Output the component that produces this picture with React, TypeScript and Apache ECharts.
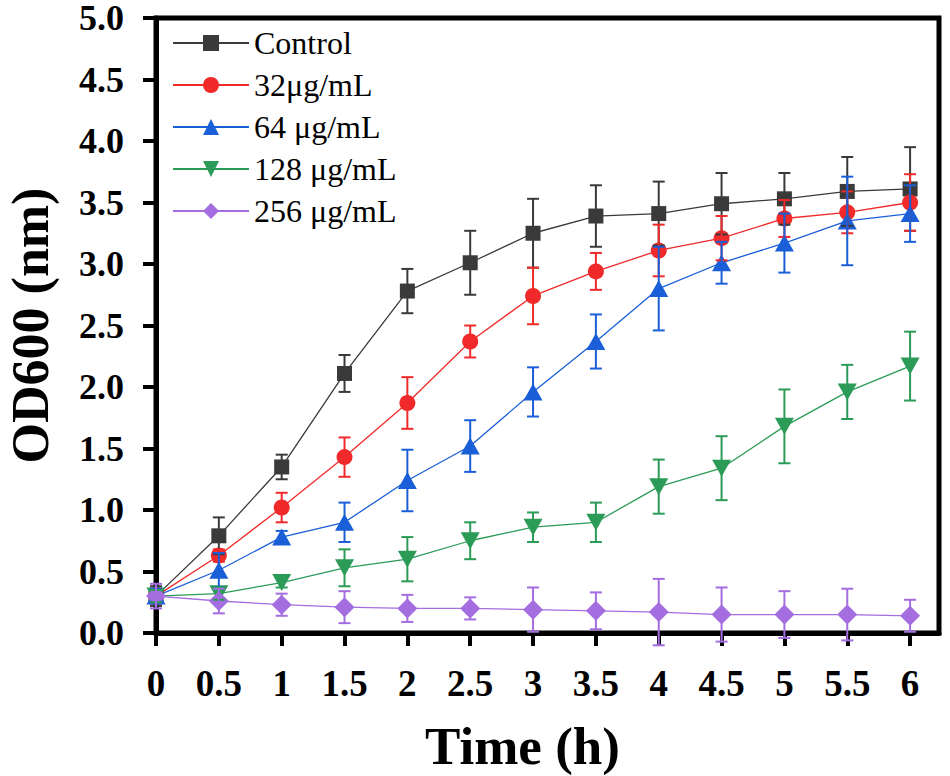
import React, { useEffect, useRef } from "react";
import * as echarts from "echarts";

const timeH = [0, 0.5, 1, 1.5, 2, 2.5, 3, 3.5, 4, 4.5, 5, 5.5, 6];
const seriesNames = ["Control", "32μg/mL", "64 μg/mL", "128 μg/mL", "256 μg/mL"];
const control = [0.30, 0.79, 1.35, 2.11, 2.78, 3.01, 3.25, 3.39, 3.41, 3.49, 3.53, 3.59, 3.61];
const controlErr = [0.08, 0.15, 0.10, 0.15, 0.18, 0.26, 0.28, 0.25, 0.26, 0.25, 0.21, 0.28, 0.34];
const c32 = [0.30, 0.63, 1.02, 1.43, 1.87, 2.37, 2.74, 2.94, 3.11, 3.21, 3.37, 3.42, 3.50];
const c32Err = [0.06, 0.05, 0.12, 0.16, 0.21, 0.13, 0.23, 0.15, 0.21, 0.18, 0.15, 0.17, 0.23];
const c64 = [0.30, 0.51, 0.78, 0.90, 1.24, 1.52, 1.96, 2.37, 2.80, 3.01, 3.17, 3.35, 3.41];
const c64Err = [0.06, 0.14, 0.05, 0.16, 0.25, 0.21, 0.20, 0.22, 0.34, 0.17, 0.24, 0.36, 0.23];
const c128 = [0.30, 0.32, 0.41, 0.53, 0.60, 0.75, 0.86, 0.90, 1.19, 1.34, 1.68, 1.96, 2.17];
const c128Err = [0.05, 0.05, 0.04, 0.15, 0.18, 0.15, 0.12, 0.16, 0.22, 0.26, 0.30, 0.22, 0.28];
const c256 = [0.30, 0.26, 0.23, 0.21, 0.20, 0.20, 0.19, 0.18, 0.17, 0.15, 0.15, 0.15, 0.14];
const c256Err = [0.10, 0.10, 0.09, 0.13, 0.11, 0.09, 0.18, 0.15, 0.27, 0.22, 0.19, 0.21, 0.13];
const yTicks = [0, 0.5, 1, 1.5, 2, 2.5, 3, 3.5, 4, 4.5, 5];

const colors = ["#3a3a3a", "#f02a2a", "#1a5fd8", "#2b9b57", "#a46de0"];
const symbols = [
  "rect",
  "circle",
  "triangle",
  "path://M0,0 L10,0 L5,9 Z",
  "diamond",
];
const symbolSizes: any[] = [15, 16, [19, 17], [19, 17], [20, 20]];
const values = [control, c32, c64, c128, c256];
const errors = [controlErr, c32Err, c64Err, c128Err, c256Err];

const FONT = "'Liberation Serif', 'Times New Roman', serif";

export default function App() {
  const ref = useRef<HTMLDivElement>(null);
  useEffect(() => {
    if (!ref.current) return;
    const chart = echarts.init(ref.current, undefined, { renderer: "svg" });
    const lineSeries = values.map((vals, i) => ({
      name: seriesNames[i],
      type: "line",
      data: timeH.map((t, j) => [t, vals[j]]),
      symbol: symbols[i],
      symbolSize: symbolSizes[i],
      lineStyle: { color: colors[i], width: 1.3 },
      itemStyle: { color: colors[i] },
      z: 3,
    }));
    const errSeries = values.map((vals, i) => ({
      name: seriesNames[i],
      type: "custom",
      data: timeH.map((t, j) => [t, vals[j], errors[i][j]]),
      z: 4,
      renderItem: (params: any, api: any) => {
        const x = api.value(0);
        const y = api.value(1);
        const e = api.value(2);
        const top = api.coord([x, y + e]);
        const bot = api.coord([x, y - e]);
        const hw = 6;
        const style = { stroke: colors[i], lineWidth: 2 };
        return {
          type: "group",
          children: [
            { type: "line", shape: { x1: top[0], y1: top[1], x2: bot[0], y2: bot[1] }, style },
            { type: "line", shape: { x1: top[0] - hw, y1: top[1], x2: top[0] + hw, y2: top[1] }, style },
            { type: "line", shape: { x1: bot[0] - hw, y1: bot[1], x2: bot[0] + hw, y2: bot[1] }, style },
          ],
        };
      },
    }));
    chart.setOption({
      animation: false,
      backgroundColor: "#fff",
      textStyle: { fontFamily: FONT },
      grid: {
        left: 156,
        top: 18,
        right: 11,
        bottom: 143,
        show: true,
        borderColor: "#000",
        borderWidth: 5,
        containLabel: false,
        outerBoundsMode: "none",
      },
      legend: {
        data: seriesNames,
        orient: "vertical",
        left: 167,
        top: 22,
        itemWidth: 76,
        itemHeight: 20,
        itemGap: 10,
        textStyle: {
          fontFamily: FONT,
          fontSize: 32,
          lineHeight: 32,
          color: "#000",
          padding: [0, 0, 0, 0],
        },
      },
      xAxis: {
        type: "value",
        min: 0,
        max: 6.23,
        interval: 0.5,
        splitLine: { show: false },
        axisLine: { lineStyle: { color: "#000", width: 5 } },
        axisTick: {
          length: 13,
          lineStyle: { color: "#000", width: 4 },
          customValues: timeH,
        },
        axisLabel: {
          customValues: timeH,
          fontFamily: FONT,
          fontWeight: "bold",
          fontSize: 37,
          lineHeight: 34,
          color: "#000",
          margin: 33,
          formatter: (v: number) => (v > 6.01 ? "" : String(v)),
        },
        name: "Time (h)",
        nameLocation: "middle",
        nameGap: 90,
        nameTextStyle: {
          fontFamily: FONT,
          fontWeight: "bold",
          fontSize: 53,
          lineHeight: 46,
          color: "#000",
          padding: [0, 50, 0, 0],
        },
      },
      yAxis: {
        type: "value",
        min: 0,
        max: 5,
        interval: 0.5,
        splitLine: { show: false },
        axisLine: { lineStyle: { color: "#000", width: 5 } },
        axisTick: { length: 13, lineStyle: { color: "#000", width: 4 }, customValues: yTicks },
        axisLabel: {
          customValues: yTicks,
          fontFamily: FONT,
          fontWeight: "bold",
          fontSize: 36,
          lineHeight: 30,
          color: "#000",
          margin: 32,
          formatter: (v: number) => v.toFixed(1),
        },
        name: "OD600 (nm)",
        nameLocation: "middle",
        nameGap: 104,
        nameTextStyle: {
          fontFamily: FONT,
          fontWeight: "bold",
          fontSize: 52,
          lineHeight: 44,
          color: "#000",
        },
      },
      series: [...lineSeries, ...errSeries],
    });
    return () => chart.dispose();
  }, []);
  return (
    <div
      ref={ref}
      style={{ position: "absolute", left: 0, top: 0, width: 950, height: 776 }}
    />
  );
}
